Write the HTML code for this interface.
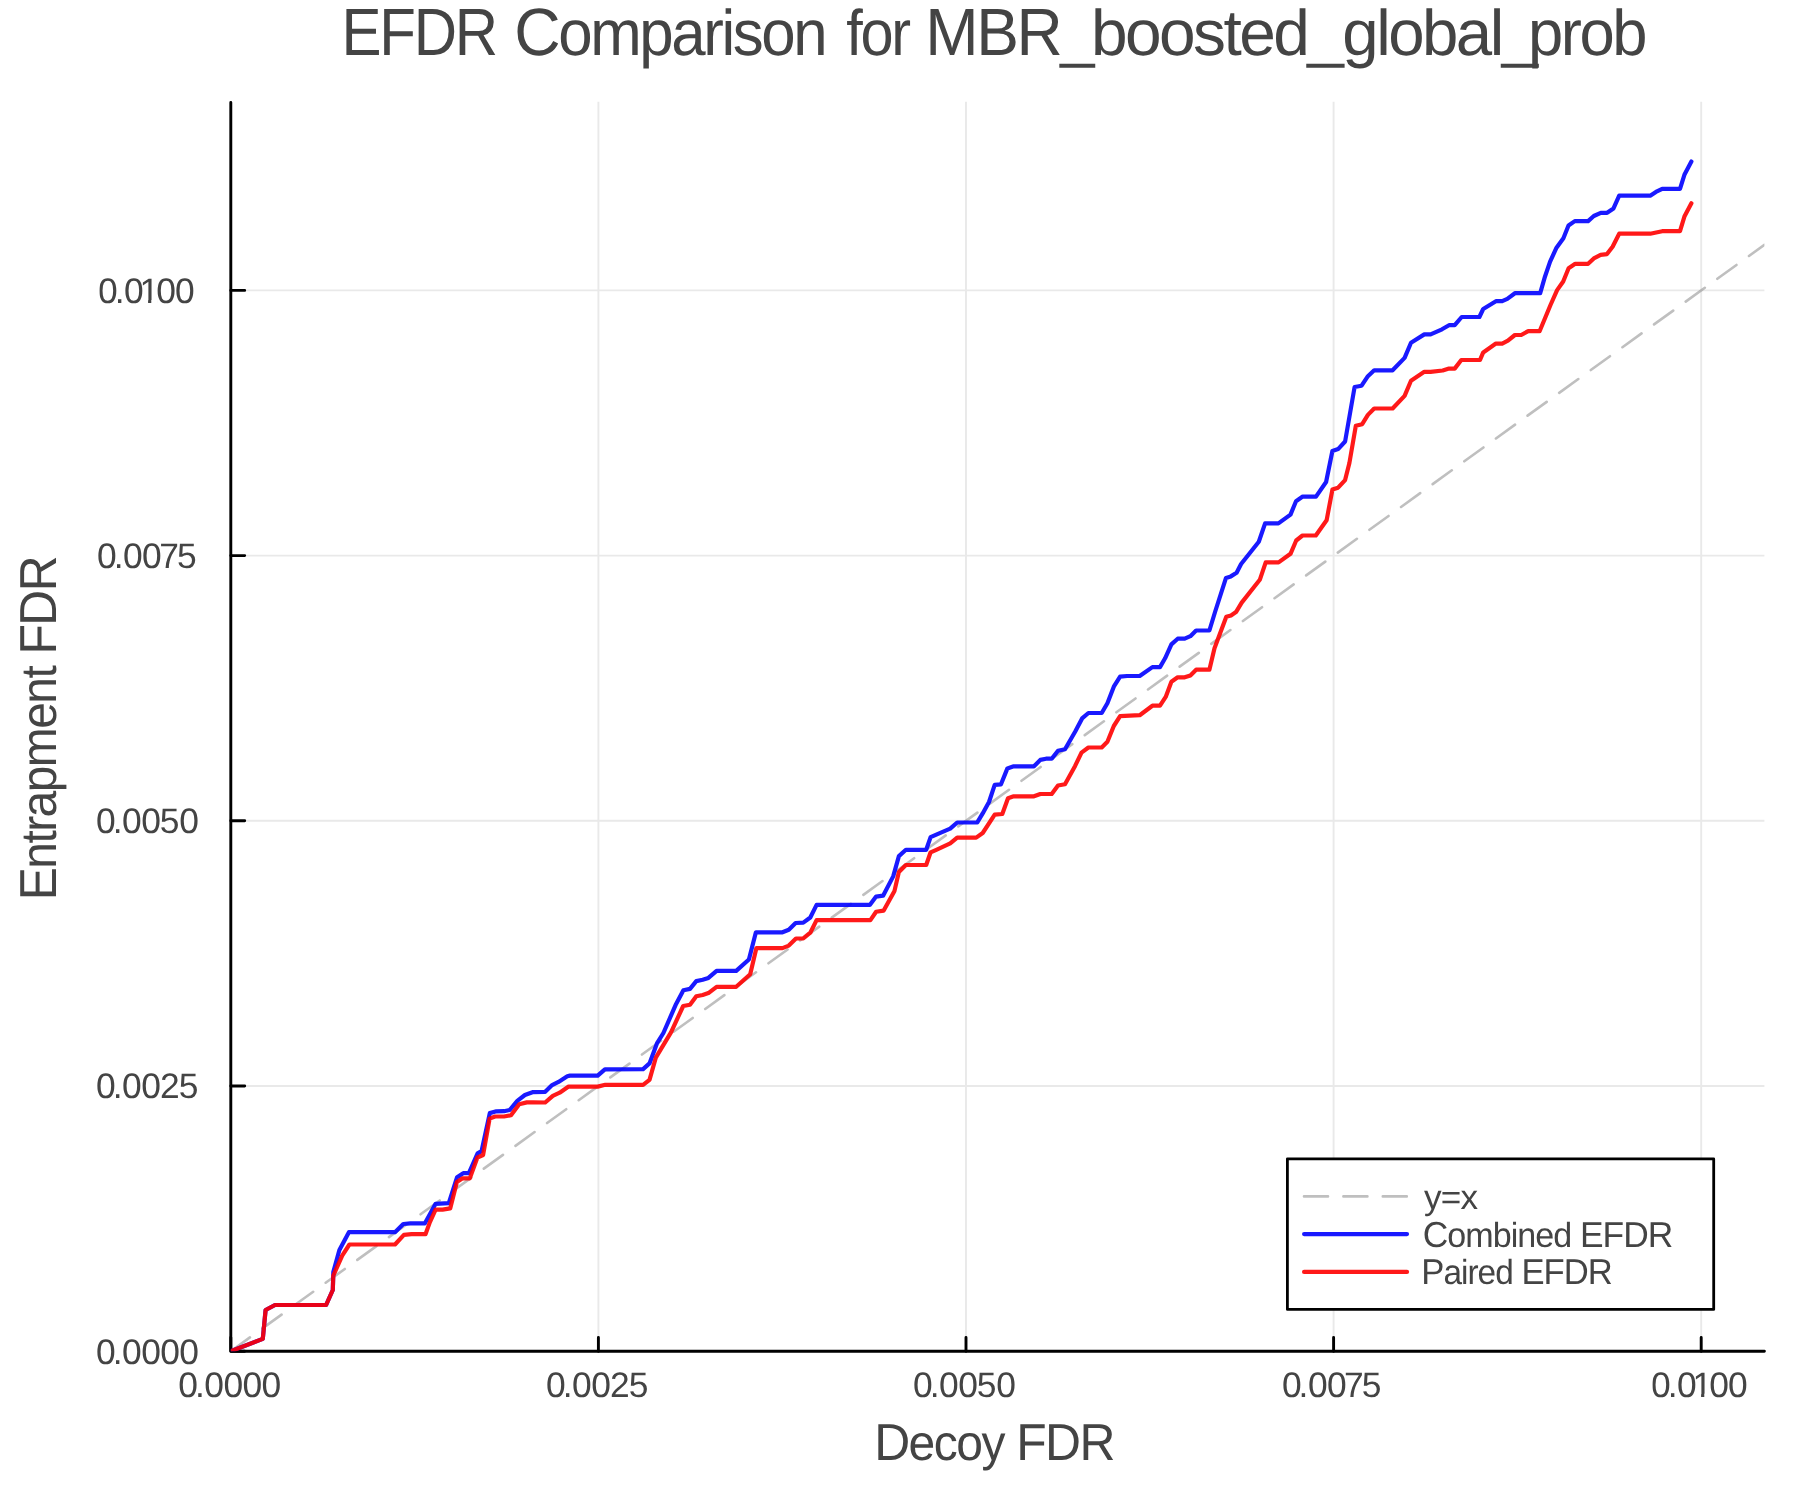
<!DOCTYPE html><html><head><meta charset="utf-8"><title>EFDR Comparison for MBR_boosted_global_prob</title>
<style>html,body{margin:0;padding:0;background:#fff;overflow:hidden;}svg{display:block;will-change:transform;}</style></head><body>
<svg width="1800" height="1500" viewBox="0 0 1800 1500" text-rendering="geometricPrecision" font-family='"Liberation Sans", Arial, Helvetica, sans-serif'>
<rect x="0" y="0" width="1800" height="1500" fill="#ffffff"/>
<defs><clipPath id="pc"><rect x="230.8" y="96.8" width="1533.6000000000001" height="1254.4"/></clipPath></defs>
<path d="M598.4,101.8V1351.2M966.0,101.8V1351.2M1333.6,101.8V1351.2M1701.2,101.8V1351.2M230.8,1086.0H1764.4M230.8,820.8H1764.4M230.8,555.6H1764.4M230.8,290.4H1764.4" stroke="#e9e9e9" stroke-width="1.9" fill="none"/>
<path d="M230.8,102.5V1351.2H1764.4" stroke="#000" stroke-width="2.9" fill="none" stroke-linecap="round" stroke-linejoin="round"/>
<path d="M230.8,1351.2V1337.4M230.8,1351.2H244.70000000000002M598.4,1351.2V1337.4M230.8,1086.0H244.70000000000002M966.0,1351.2V1337.4M230.8,820.8H244.70000000000002M1333.6,1351.2V1337.4M230.8,555.6H244.70000000000002M1701.2,1351.2V1337.4M230.8,290.4H244.70000000000002" stroke="#000" stroke-width="2.9" fill="none" stroke-linecap="round"/>
<g clip-path="url(#pc)">
<path d="M230.8,1351.2L1764.4,244.8" stroke="#808080" stroke-opacity="0.5" stroke-width="2.6" stroke-linecap="round" stroke-dasharray="23.6 15.4" fill="none"/>
<polyline points="230.8,1351.2 262.8,1338.9 265.6,1310.0 275.0,1305.0 326.1,1305.0 332.8,1290.0 333.3,1272.0 339.4,1250.0 348.9,1232.2 395.0,1232.2 403.3,1224.0 410.3,1223.4 424.8,1223.4 435.6,1203.8 448.8,1203.1 457.1,1177.2 463.2,1173.2 468.9,1173.2 477.6,1153.4 481.6,1151.0 489.8,1113.1 496.4,1111.3 504.0,1111.2 509.7,1110.0 517.3,1100.9 524.9,1095.0 532.5,1092.2 545.2,1091.8 552.1,1085.1 558.5,1081.9 567.3,1076.2 569.9,1075.6 597.7,1075.6 604.9,1069.3 643.1,1069.1 649.5,1063.4 657.1,1043.1 663.4,1033.0 676.1,1003.9 683.4,990.2 690.0,988.9 696.3,981.1 702.7,979.8 708.4,977.9 716.6,970.9 736.2,970.9 748.9,959.5 755.9,932.3 782.5,932.3 788.8,929.8 795.6,923.0 803.3,922.6 810.3,917.5 816.6,904.9 869.8,904.9 876.1,896.6 883.1,895.7 893.2,876.4 898.9,856.1 905.9,849.8 926.2,849.8 930.6,837.1 936.3,834.6 950.2,828.6 957.2,822.5 977.3,822.4 982.7,813.4 989.0,802.0 994.7,784.9 1001.0,784.3 1007.4,768.4 1013.7,766.3 1034.0,766.3 1040.3,759.9 1046.0,758.7 1051.7,758.7 1058.0,750.7 1065.0,749.2 1075.1,731.7 1082.1,718.4 1088.4,713.0 1101.7,713.0 1107.4,703.2 1113.8,686.7 1120.1,676.6 1127.1,676.0 1139.7,676.0 1152.4,667.1 1160.0,667.1 1165.1,658.3 1171.4,644.4 1177.7,638.7 1184.7,638.7 1190.4,636.2 1196.1,630.5 1209.4,630.5 1215.2,611.5 1226.0,577.9 1230.8,576.4 1236.6,572.8 1241.1,564.0 1258.8,541.8 1265.1,523.4 1278.4,523.4 1290.5,514.6 1296.0,501.2 1302.7,496.6 1316.0,496.6 1326.1,482.0 1332.4,451.0 1338.1,449.1 1345.1,441.5 1354.6,387.0 1361.6,385.7 1367.9,376.2 1374.2,370.3 1392.6,370.3 1404.6,357.9 1411.0,342.7 1424.3,334.4 1430.6,334.4 1442.0,329.3 1449.0,325.2 1454.7,325.2 1461.7,317.0 1479.4,317.0 1483.2,309.0 1495.9,301.2 1502.2,301.2 1507.3,298.9 1514.9,293.2 1540.2,293.2 1545.1,276.2 1550.1,261.6 1556.5,247.7 1563.4,238.2 1568.5,225.5 1574.8,221.1 1588.1,221.1 1593.8,216.0 1600.8,212.8 1607.1,212.8 1613.5,208.4 1619.2,195.7 1650.2,195.7 1655.9,191.9 1662.2,188.8 1680.0,188.8 1684.4,174.8 1691.4,161.5" fill="none" stroke="#0000ff" stroke-opacity="0.9" stroke-width="4.2" stroke-linejoin="round" stroke-linecap="round"/>
<polyline points="230.8,1351.2 262.8,1338.9 265.6,1310.0 275.0,1305.0 326.1,1305.0 332.8,1290.0 333.3,1275.6 342.2,1255.6 349.4,1244.5 395.0,1244.5 403.9,1234.8 411.5,1234.2 425.5,1234.2 429.9,1222.1 435.6,1209.6 442.6,1209.6 450.2,1208.4 456.9,1182.0 462.2,1178.4 469.8,1178.4 477.4,1157.5 483.1,1155.0 489.6,1118.6 495.1,1116.5 504.0,1116.5 511.0,1115.3 519.2,1104.3 526.8,1102.4 533.1,1102.3 545.2,1102.5 552.8,1095.8 559.7,1092.7 568.6,1086.6 597.7,1086.6 605.3,1084.8 643.1,1084.9 649.5,1079.9 655.8,1057.7 671.0,1032.4 683.2,1006.0 690.0,1004.7 696.3,996.3 702.7,995.0 708.4,993.1 716.6,986.8 736.2,986.8 750.2,974.3 756.4,948.1 782.5,948.1 788.8,945.6 796.0,938.5 803.3,938.4 810.3,932.7 816.6,920.1 870.4,920.1 876.1,911.8 883.7,910.6 894.5,890.9 898.9,871.9 905.9,865.0 926.2,865.0 930.6,852.3 936.3,849.8 950.2,843.4 957.2,837.7 976.2,837.6 982.7,833.0 994.7,814.7 1002.3,814.0 1008.0,798.2 1013.7,796.3 1034.0,796.3 1040.3,794.0 1051.7,794.0 1058.0,785.5 1065.0,784.3 1075.1,765.9 1081.5,752.6 1088.4,747.5 1101.7,747.5 1107.4,741.8 1113.8,726.0 1120.1,716.1 1139.7,715.2 1152.4,705.7 1160.0,705.7 1165.7,696.9 1171.4,681.8 1177.7,677.3 1184.7,677.3 1190.4,675.4 1196.1,669.7 1209.4,669.7 1214.5,648.2 1226.3,616.8 1231.0,615.5 1236.0,612.1 1241.7,602.6 1259.8,579.8 1265.7,562.4 1278.6,562.4 1290.5,553.8 1296.2,540.5 1302.5,535.5 1315.8,535.5 1326.6,520.3 1332.4,489.6 1338.1,487.7 1345.1,480.1 1349.4,463.0 1355.8,425.8 1362.2,424.2 1367.9,414.9 1374.2,408.5 1392.6,408.5 1404.6,395.9 1411.0,380.7 1424.3,371.8 1430.6,371.8 1442.7,370.5 1449.0,368.6 1454.7,368.6 1461.3,360.0 1480.0,360.0 1483.2,352.4 1495.9,343.6 1502.2,343.6 1507.9,340.7 1514.9,335.0 1521.2,335.0 1528.2,331.2 1539.6,331.2 1550.5,305.0 1557.1,290.1 1563.2,281.5 1568.6,268.2 1575.2,263.8 1588.1,263.8 1593.8,258.4 1600.6,254.9 1607.0,254.1 1612.6,246.7 1619.2,233.7 1650.2,233.7 1662.2,231.2 1680.0,231.2 1684.4,216.6 1691.4,203.3" fill="none" stroke="#ff0000" stroke-opacity="0.9" stroke-width="4.2" stroke-linejoin="round" stroke-linecap="round"/>
</g>
<g fill="#444444">
<text x="95.92 112.75 121.92 141.32 160.32 179.32" y="1363.60" font-size="35.4">0.0000</text>
<text x="95.92 112.75 121.92 141.32 159.93 178.83" y="1098.40" font-size="35.4">0.0025</text>
<text x="95.92 112.75 121.92 141.32 159.83 179.32" y="833.20" font-size="35.4">0.0050</text>
<text x="97.12 113.75 123.12 142.12 159.23 177.03" y="568.00" font-size="35.4">0.0075</text>
<defs><clipPath id="c1y"><path clip-rule="evenodd" d="M99.38,262.80H199.38V317.80H99.38ZM141.34,300.00H148.08V303.50H141.34ZM151.28,300.00H157.96V303.50H151.28Z"/></clipPath><clipPath id="c1x"><path clip-rule="evenodd" d="M1652.38,1356.50H1752.38V1411.50H1652.38ZM1694.34,1393.70H1701.08V1397.20H1694.34ZM1704.28,1393.70H1710.96V1397.20H1704.28Z"/></clipPath></defs>
<g clip-path="url(#c1y)"><text x="98.02 114.75 123.92 139.38 156.32 175.02" y="302.80" font-size="35.4">0.0100</text></g>
<text x="178.22 195.06 204.22 223.62 242.62 261.62" y="1396.50" font-size="35.4">0.0000</text>
<text x="545.92 562.75 571.92 591.32 609.93 628.83" y="1396.50" font-size="35.4">0.0025</text>
<text x="912.92 929.75 938.92 958.32 976.83 996.32" y="1396.50" font-size="35.4">0.0050</text>
<text x="1281.92 1298.55 1307.92 1326.92 1344.03 1361.83" y="1396.50" font-size="35.4">0.0075</text>
<g clip-path="url(#c1x)"><text x="1651.02 1667.76 1676.92 1692.38 1709.32 1728.02" y="1396.50" font-size="35.4">0.0100</text></g>
</g>
<g fill="#444444">
<text x="874.17" y="1459.70" font-size="52" letter-spacing="-1.6" textLength="239.77" lengthAdjust="spacingAndGlyphs">D<tspan font-size="50.1">ecoy</tspan> FDR</text>
<g transform="translate(56,896.5) rotate(-90)"><text x="-3.82" y="0.00" font-size="52" letter-spacing="-1.6" textLength="343.34" lengthAdjust="spacingAndGlyphs">E<tspan font-size="50.1">ntrapment</tspan> FDR</text></g>
<text x="341.52" y="55.10" font-size="67" letter-spacing="-2.5" textLength="154.43" lengthAdjust="spacingAndGlyphs">EFDR</text>
<text x="514.22" y="55.10" font-size="67" letter-spacing="-2.5" textLength="311.06" lengthAdjust="spacingAndGlyphs">C<tspan font-size="64.5">omparison</tspan></text>
<text x="846.30" y="55.10" font-size="67" letter-spacing="-2.5" textLength="62.46" lengthAdjust="spacingAndGlyphs"><tspan font-size="64.5">for</tspan></text>
<text x="925.22" y="55.10" font-size="67" letter-spacing="-2.5" textLength="167.03" lengthAdjust="spacingAndGlyphs">MBR<tspan font-size="64.5">_</tspan></text>
<text x="1090.92" y="55.10" font-size="67" letter-spacing="-2.5" textLength="250.41" lengthAdjust="spacingAndGlyphs"><tspan font-size="64.5">boosted_</tspan></text>
<text x="1342.37" y="55.10" font-size="67" letter-spacing="-2.5" textLength="193.11" lengthAdjust="spacingAndGlyphs"><tspan font-size="64.5">global_</tspan></text>
<text x="1528.07" y="55.10" font-size="67" letter-spacing="-2.5" textLength="117.04" lengthAdjust="spacingAndGlyphs"><tspan font-size="64.5">prob</tspan></text>
</g>
<rect x="1287.4" y="1158.8" width="426.3" height="150.6" fill="#ffffff" stroke="#000" stroke-width="2.8" stroke-linejoin="round"/>
<path d="M1304,1196.4H1406.8" stroke="#808080" stroke-opacity="0.5" stroke-width="2.6" stroke-linecap="round" stroke-dasharray="24 15.4" fill="none"/>
<path d="M1304.1,1234.1H1407" stroke="#0000ff" stroke-opacity="0.9" stroke-width="4.2" stroke-linecap="round" fill="none"/>
<path d="M1304.1,1271.9H1407" stroke="#ff0000" stroke-opacity="0.9" stroke-width="4.2" stroke-linecap="round" fill="none"/>
<g fill="#444444">
<text x="1424.00" y="1208.60" font-size="36" letter-spacing="-0.8" textLength="53.24" lengthAdjust="spacingAndGlyphs"><tspan font-size="34.7">y=x</tspan></text>
<text x="1422.72" y="1247.00" font-size="36" letter-spacing="-1.0" textLength="249.63" lengthAdjust="spacingAndGlyphs">C<tspan font-size="34.7">ombined</tspan> EFDR</text>
<text x="1421.28" y="1283.90" font-size="36" letter-spacing="-1.0" textLength="190.53" lengthAdjust="spacingAndGlyphs">P<tspan font-size="34.7">aired</tspan> EFDR</text>
</g>
</svg></body></html>
